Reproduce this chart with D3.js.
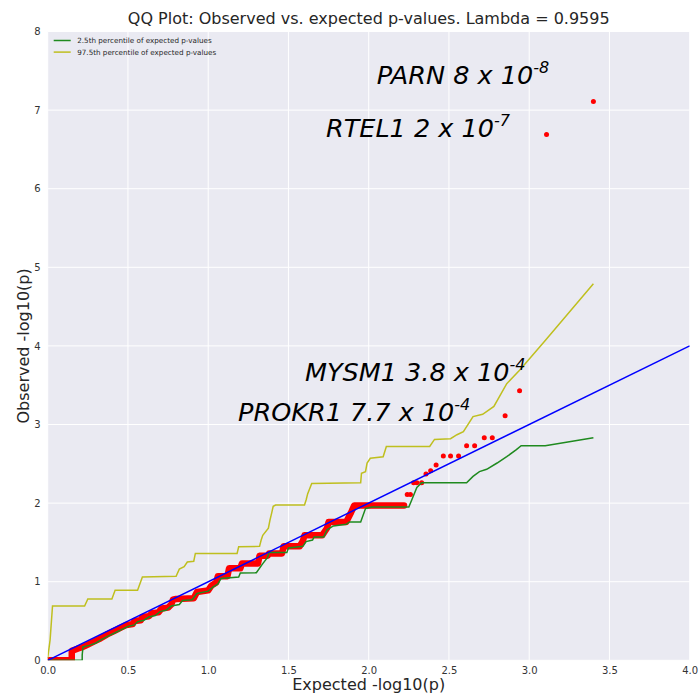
<!DOCTYPE html>
<html>
<head>
<meta charset="utf-8">
<script src="https://cdn.jsdelivr.net/npm/d3@7/dist/d3.min.js"></script>
<style>
  body { margin: 0; background: #ffffff; }
  text { font-family: "DejaVu Sans", sans-serif; }
</style>
</head>
<body>
<svg id="chart" width="700" height="697"></svg>
<script>
// ---- data -------------------------------------------------------------
const xTicks = [0, 0.5, 1, 1.5, 2, 2.5, 3, 3.5, 4];
const yTicks = [0, 1, 2, 3, 4, 5, 6, 7, 8];

// Tied observed p-values in the dense part of the distribution
// (expected -log10 p, observed -log10 p), one vertex per run corner.
const observedBand = [
  [0.00, 0.00], [0.15, 0.00], [0.15, 0.12], [0.19, 0.15], [0.22, 0.17],
  [0.25, 0.20], [0.29, 0.24], [0.33, 0.28], [0.37, 0.33], [0.41, 0.37],
  [0.45, 0.41], [0.49, 0.45], [0.53, 0.46], [0.54, 0.50], [0.58, 0.51],
  [0.59, 0.55], [0.63, 0.56], [0.65, 0.60], [0.69, 0.61], [0.71, 0.66],
  [0.75, 0.67], [0.77, 0.71], [0.78, 0.77], [0.80, 0.78], [0.91, 0.79],
  [0.93, 0.87], [1.00, 0.89], [1.02, 0.95], [1.05, 0.99], [1.06, 1.07],
  [1.12, 1.07], [1.13, 1.17], [1.20, 1.17], [1.21, 1.23], [1.31, 1.23],
  [1.32, 1.33], [1.37, 1.33], [1.38, 1.36], [1.46, 1.36], [1.47, 1.45],
  [1.57, 1.45], [1.59, 1.52], [1.60, 1.59], [1.71, 1.59], [1.74, 1.68],
  [1.75, 1.76], [1.86, 1.76], [1.89, 1.88], [1.91, 1.97], [2.22, 1.97]
];

// Individual genes in the tail
const observedPoints = [
  [2.24, 2.11], [2.26, 2.11], [2.28, 2.26], [2.30, 2.26], [2.33, 2.26],
  [2.357, 2.37], [2.386, 2.41], [2.42, 2.485], [2.465, 2.60], [2.51, 2.60],
  [2.56, 2.60], [2.61, 2.73], [2.66, 2.73], [2.72, 2.83], [2.77, 2.83],
  [2.85, 3.11], [2.94, 3.43], [3.108, 6.69], [3.40, 7.11]
];

// 2.5th percentile of expected p-values
const lowerBound = [
  [0.00, 0.00], [0.215, 0.00], [0.215, 0.07], [0.22, 0.17], [0.26, 0.19],
  [0.30, 0.22], [0.34, 0.27], [0.38, 0.31], [0.42, 0.35], [0.46, 0.39],
  [0.50, 0.43], [0.54, 0.45], [0.56, 0.49], [0.60, 0.51], [0.63, 0.55],
  [0.67, 0.57], [0.70, 0.62], [0.74, 0.64], [0.77, 0.69], [0.82, 0.71],
  [0.84, 0.76], [0.90, 0.77], [0.93, 0.85], [1.00, 0.88], [1.03, 0.93],
  [1.06, 0.97], [1.08, 1.04], [1.19, 1.06], [1.20, 1.11], [1.30, 1.115],
  [1.34, 1.23], [1.37, 1.31], [1.38, 1.37], [1.49, 1.37], [1.50, 1.43],
  [1.59, 1.45], [1.61, 1.51], [1.65, 1.53], [1.66, 1.57], [1.72, 1.57],
  [1.74, 1.66], [1.78, 1.71], [1.86, 1.73], [1.88, 1.76], [1.95, 1.76],
  [1.98, 1.93], [2.02, 1.95], [2.25, 1.95], [2.27, 2.05], [2.30, 2.20],
  [2.33, 2.26], [2.61, 2.26], [2.65, 2.34], [2.69, 2.40], [2.735, 2.43],
  [2.80, 2.51], [2.86, 2.59], [2.92, 2.68], [2.95, 2.73], [3.10, 2.73],
  [3.40, 2.83]
];

// 97.5th percentile of expected p-values
const upperBound = [
  [0.00, 0.03], [0.015, 0.26], [0.03, 0.69], [0.23, 0.69], [0.25, 0.78],
  [0.40, 0.78], [0.42, 0.89], [0.56, 0.89], [0.59, 1.06], [0.80, 1.07],
  [0.82, 1.16], [0.85, 1.19], [0.87, 1.25], [0.91, 1.26], [0.92, 1.36],
  [1.18, 1.36], [1.19, 1.445], [1.32, 1.45], [1.33, 1.53], [1.34, 1.59],
  [1.375, 1.68], [1.385, 1.785], [1.395, 1.87], [1.405, 1.96], [1.42, 1.976],
  [1.60, 1.976], [1.61, 2.04], [1.62, 2.12], [1.645, 2.25], [1.95, 2.26],
  [1.955, 2.38], [1.98, 2.40], [1.99, 2.51], [2.01, 2.57], [2.09, 2.59],
  [2.11, 2.72], [2.38, 2.72], [2.41, 2.81], [2.51, 2.82], [2.55, 2.87],
  [2.59, 2.91], [2.65, 3.10], [2.71, 3.13], [2.78, 3.23], [2.86, 3.52],
  [2.94, 3.69], [3.10, 4.07], [3.40, 4.79]
];

const nullLine = [[0, 0], [4, 4]];

const legendLabels = [
  "2.5th percentile of expected p-values",
  "97.5th percentile of expected p-values"
];

const hitGenes = ["PARN", "RTEL1", "MYSM1", "PROKR1"];
const hitMantissa = ["8", "2", "3.8", "7.7"];
const hitExponent = ["-8", "-7", "-4", "-4"];
const lambda = "0.9595";

// ---- layout -----------------------------------------------------------
const W = 700, H = 697;
const margin = { top: 31.5, right: 10.3, bottom: 36.7, left: 47.7 };
const iw = W - margin.left - margin.right;
const ih = H - margin.top - margin.bottom;

const x = d3.scaleLinear().domain([0, 4]).range([0, iw]);
const y = d3.scaleLinear().domain([0, 8]).range([ih, 0]);

const svg = d3.select("#chart");

svg.append("defs").append("clipPath").attr("id", "plot-clip")
  .append("rect").attr("width", iw).attr("height", ih);

const g = svg.append("g").attr("transform", `translate(${margin.left},${margin.top})`);

g.append("rect").attr("width", iw).attr("height", ih).attr("fill", "#eaeaf2");

// grid
g.append("g").selectAll("line").data(xTicks).join("line")
  .attr("x1", d => x(d)).attr("x2", d => x(d))
  .attr("y1", 0).attr("y2", ih)
  .attr("stroke", "#ffffff").attr("stroke-width", 1);
g.append("g").selectAll("line").data(yTicks).join("line")
  .attr("x1", 0).attr("x2", iw)
  .attr("y1", d => y(d)).attr("y2", d => y(d))
  .attr("stroke", "#ffffff").attr("stroke-width", 1);

// axes (labels only, no spines or tick marks)
const xAxis = d3.axisBottom(x).tickValues(xTicks).tickFormat(d3.format(".1f"))
  .tickSize(0).tickPadding(7);
const yAxis = d3.axisLeft(y).tickValues(yTicks).tickFormat(d3.format("d"))
  .tickSize(0).tickPadding(7);

const gx = g.append("g").attr("transform", `translate(0,${ih})`).call(xAxis);
const gy = g.append("g").call(yAxis);
[gx, gy].forEach(a => {
  a.select(".domain").remove();
  a.selectAll("text").attr("font-family", "DejaVu Sans")
    .attr("font-size", 10).attr("fill", "#333333");
});

const plot = g.append("g").attr("clip-path", "url(#plot-clip)");

const line = d3.line().x(d => x(d[0])).y(d => y(d[1]));

// observed p-values
plot.append("path").datum(observedBand)
  .attr("d", line)
  .attr("fill", "none").attr("stroke", "#ff0000")
  .attr("stroke-width", 6.5)
  .attr("stroke-linejoin", "round").attr("stroke-linecap", "round");

plot.append("g").selectAll("circle").data(observedPoints).join("circle")
  .attr("cx", d => x(d[0])).attr("cy", d => y(d[1])).attr("r", 2.5)
  .attr("fill", "#ff0000");

// percentile envelope and null line
plot.append("path").datum(lowerBound).attr("d", line)
  .attr("fill", "none").attr("stroke", "#1f8a1f").attr("stroke-width", 1.5);
plot.append("path").datum(upperBound).attr("d", line)
  .attr("fill", "none").attr("stroke", "#bfbf1f").attr("stroke-width", 1.5);
plot.append("path").datum(nullLine).attr("d", line)
  .attr("fill", "none").attr("stroke", "#0000ff").attr("stroke-width", 1.5);

// legend
const legendColors = ["#1f8a1f", "#bfbf1f"];
const lg = g.append("g").attr("transform", "translate(6,9)");
legendLabels.forEach((t, i) => {
  lg.append("line").attr("x1", 0).attr("x2", 17)
    .attr("y1", i * 11.6).attr("y2", i * 11.6)
    .attr("stroke", legendColors[i]).attr("stroke-width", 1.5);
  lg.append("text").attr("x", 23.5).attr("y", i * 11.6 + 2.6)
    .attr("font-size", 7.2).attr("fill", "#262626").text(t);
});

// gene annotations
const labelAnchors = [[2.05, 7.33], [1.734, 6.654], [1.603, 3.553], [1.186, 3.048]];
hitGenes.forEach((gene, i) => {
  const t = g.append("text")
    .attr("x", x(labelAnchors[i][0])).attr("y", y(labelAnchors[i][1]))
    .attr("font-family", "Lato, 'Open Sans', sans-serif")
    .attr("font-style", "italic").attr("font-size", 25.5)
    .attr("fill", "#000000");
  t.append("tspan").text(`${gene} ${hitMantissa[i]} x 10`);
  t.append("tspan").attr("dy", -11).attr("font-size", 16).text(hitExponent[i]);
});

// titles
svg.append("text").attr("x", margin.left + iw / 2).attr("y", 24)
  .attr("text-anchor", "middle").attr("font-size", 16).attr("fill", "#262626")
  .text(`QQ Plot: Observed vs. expected p-values. Lambda = ${lambda}`);

svg.append("text").attr("x", margin.left + iw / 2).attr("y", 690)
  .attr("text-anchor", "middle").attr("font-size", 16).attr("fill", "#262626")
  .text("Expected -log10(p)");

svg.append("text")
  .attr("transform", `translate(29,${margin.top + ih / 2}) rotate(-90)`)
  .attr("text-anchor", "middle").attr("font-size", 16).attr("fill", "#262626")
  .text("Observed -log10(p)");
</script>
</body>
</html>
